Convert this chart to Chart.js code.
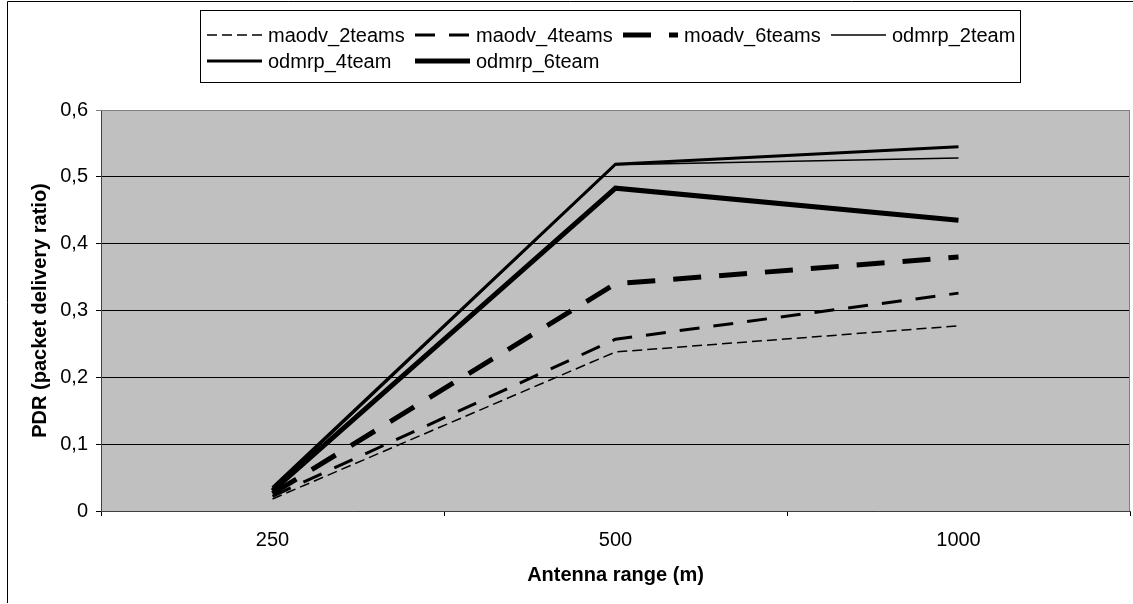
<!DOCTYPE html>
<html><head><meta charset="utf-8">
<script src="https://cdn.jsdelivr.net/npm/chart.js@4"></script>
<style>html,body{margin:0;padding:0;background:#fff}#wrap{width:1133px;height:604px;position:relative}</style>
</head><body><div id="wrap"><canvas id="c" width="1133" height="604"></canvas></div>
<script>
const categories = ['250', '500', '1000'];
const seriesNames = ['maodv_2teams', 'maodv_4teams', 'moadv_6teams', 'odmrp_2team', 'odmrp_4team', 'odmrp_6team'];
const maodv2 = [0.018, 0.238, 0.277];
const maodv4 = [0.022, 0.257, 0.326];
const moadv6 = [0.026, 0.340, 0.380];
const odmrp2 = [0.032, 0.518, 0.528];
const odmrp4 = [0.035, 0.519, 0.545];
const odmrp6 = [0.030, 0.483, 0.435];
const yTickLabels = ['0', '0,1', '0,2', '0,3', '0,4', '0,5', '0,6'];
const xTitle = 'Antenna range (m)';
const yTitle = 'PDR (packet delivery ratio)';

const FONT = '"Liberation Sans", Arial, sans-serif';
const seriesValues = [maodv2, maodv4, moadv6, odmrp2, odmrp4, odmrp6];
const styles = [
  {w: 1.5, dash: [10, 5]},
  {w: 3, dash: [20, 14]},
  {w: 5, dash: [28, 18]},
  {w: 1.5, dash: []},
  {w: 3, dash: []},
  {w: 5, dash: []}
];

const plotBg = {
  id: 'plotBg',
  beforeDraw(chart) {
    const {ctx, chartArea: a} = chart;
    ctx.save();
    ctx.fillStyle = '#fff';
    ctx.fillRect(0, 0, chart.width, chart.height);
    ctx.fillStyle = '#C0C0C0';
    ctx.fillRect(a.left, a.top, a.right - a.left, a.bottom - a.top);
    ctx.restore();
  },
  afterDraw(chart) {
    const {ctx, chartArea: a} = chart;
    ctx.save();
    ctx.strokeStyle = '#808080';
    ctx.lineWidth = 1;
    ctx.beginPath();
    ctx.moveTo(a.left, a.top + 0.5);
    ctx.lineTo(a.right - 0.5, a.top + 0.5);
    ctx.lineTo(a.right - 0.5, a.bottom);
    ctx.stroke();
    ctx.strokeStyle = '#000';
    ctx.beginPath();
    ctx.moveTo(7.5, 603);
    ctx.lineTo(7.5, 1.5);
    ctx.lineTo(1133, 1.5);
    ctx.stroke();
    ctx.strokeRect(200.5, 10.5, 820, 72);
    ctx.font = '20px ' + FONT;
    ctx.textBaseline = 'middle';
    ctx.fillStyle = '#000';
    chart.data.datasets.forEach((ds, i) => {
      const row = Math.floor(i / 4), col = i % 4;
      const x = 207 + col * 208, y = 35 + row * 26;
      ctx.beginPath();
      ctx.setLineDash(ds.borderDash || []);
      ctx.lineWidth = ds.borderWidth;
      ctx.moveTo(x, y);
      ctx.lineTo(x + 55, y);
      ctx.stroke();
      ctx.setLineDash([]);
      ctx.fillText(ds.label, x + 61, y + 1);
    });
    ctx.restore();
  }
};

new Chart(document.getElementById('c'), {
  type: 'line',
  data: {
    labels: categories,
    datasets: seriesNames.map((n, i) => ({
      label: n,
      data: seriesValues[i],
      borderColor: '#000',
      backgroundColor: '#000',
      borderWidth: styles[i].w,
      borderDash: styles[i].dash,
      pointRadius: 0,
      tension: 0,
      fill: false
    }))
  },
  options: {
    responsive: false,
    animation: false,
    layout: {padding: {top: 110, left: 0, right: 3, bottom: 0}},
    plugins: {legend: {display: false}, tooltip: {enabled: false}},
    scales: {
      x: {
        offset: true,
        grid: {offset: true, drawOnChartArea: false, drawTicks: true, tickLength: 5, color: '#000'},
        border: {display: true, color: '#404040', width: 1},
        ticks: {font: {family: FONT, size: 20}, color: '#000', padding: 12, maxRotation: 0},
        title: {display: true, text: xTitle, font: {family: FONT, size: 20, weight: 'bold'}, color: '#000', padding: {top: 0, bottom: 17}},
        afterFit(s) { s.height = 604 - 511; }
      },
      y: {
        min: 0, max: 0.6,
        grid: {color: (c) => (c.tick && c.tick.value >= 0.6 ? '#808080' : '#000'), tickLength: 5, lineWidth: 1},
        border: {display: true, color: '#404040', width: 1},
        ticks: {stepSize: 0.1, font: {family: FONT, size: 20}, color: '#000', padding: 8,
          callback: (v, i) => yTickLabels[i]},
        title: {display: true, text: yTitle, font: {family: FONT, size: 20, weight: 'bold'}, color: '#000', padding: {top: 28, bottom: 0}},
        afterFit(s) { s.width = 101; }
      }
    }
  },
  plugins: [plotBg]
});
</script></body></html>
